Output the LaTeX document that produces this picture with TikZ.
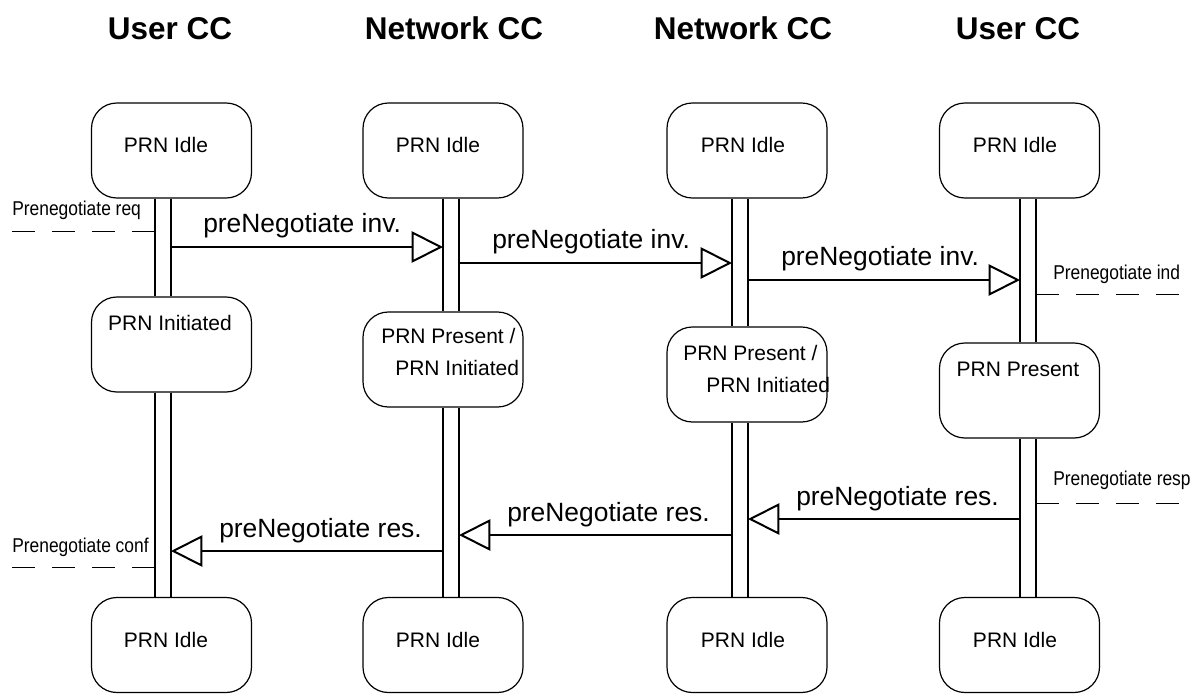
\documentclass[tikz,border=0pt]{standalone}
\usepackage{fontspec}
\setmainfont{Liberation Sans}
\newfontfamily\narrowfont[FakeStretch=0.87]{Liberation Sans}
\usetikzlibrary{arrows.meta}
\begin{document}
\begin{tikzpicture}[x=0.75pt,y=-0.75pt,
 box/.style={draw, line width=0.9pt, rounded corners=19pt, minimum width=120pt, minimum height=71.25pt, inner sep=0pt},
 boxtext/.style={font=\fontsize{15.75}{18}\selectfont, anchor=base, inner sep=0pt},
 boxtextl/.style={font=\fontsize{15.75}{18}\selectfont, anchor=base west, inner sep=0pt},
 head/.style={font=\bfseries\fontsize{23.6}{28}\selectfont, anchor=base, inner sep=0pt},
 msglabel/.style={font=\fontsize{19.8}{23}\selectfont, anchor=base west, inner sep=0pt},
 sidelabel/.style={font=\narrowfont\fontsize{15}{18}\selectfont, anchor=base west, inner sep=0pt},
 life/.style={line width=1.5pt},
 msg/.style={line width=1.5pt, -{Triangle[open,length=23.5pt,width=23.5pt,line width=1.5pt]}},
 dashline/.style={line width=0.75pt, dash pattern=on 17.25pt off 12.75pt}]
\useasboundingbox (0,0) rectangle (1200,693);

% headers
\node[head] (h1) at (170,39) {User CC};
\node[head] (h2) at (454,39) {Network CC};
\node[head] (h3) at (743,39) {Network CC};
\node[head] (h4) at (1018,39) {User CC};

% lifeline x positions
\coordinate (l1a) at (155,0); \coordinate (l1b) at (171,0);
\coordinate (l2a) at (443,0); \coordinate (l2b) at (459,0);
\coordinate (l3a) at (732,0); \coordinate (l3b) at (748,0);
\coordinate (l4a) at (1020,0); \coordinate (l4b) at (1036,0);

% top boxes
\node[box] (t1) at (171.5,150.5) {};
\node[box] (t2) at (443,150.5) {};
\node[box] (t3) at (747,150.5) {};
\node[box] (t4) at (1019.5,150.5) {};
\node[boxtext] (tt1) at (166,152) {PRN Idle};
\node[boxtext] (tt2) at (438,152) {PRN Idle};
\node[boxtext] (tt3) at (743,152) {PRN Idle};
\node[boxtext] (tt4) at (1015,152) {PRN Idle};

% middle boxes
\node[box] (m1) at (171.5,344.5) {};
\node[box] (m2) at (443,359.5) {};
\node[box] (m3) at (747,374.5) {};
\node[box] (m4) at (1019.5,390.5) {};
\node[boxtext] (mt1) at (170,330) {PRN Initiated};
\node[boxtextl] (mt2a) at (381,343) {PRN Present /};
\node[boxtextl] (mt2b) at (395,375) {PRN Initiated};
\node[boxtextl] (mt3a) at (683,360) {PRN Present /};
\node[boxtextl] (mt3b) at (706,392) {PRN Initiated};
\node[boxtext] (mt4) at (1018,376) {PRN Present};

% bottom boxes
\node[box] (b1) at (171.5,645) {};
\node[box] (b2) at (443,645) {};
\node[box] (b3) at (747,645) {};
\node[box] (b4) at (1019.5,645) {};
\node[boxtext] (bt1) at (166,647) {PRN Idle};
\node[boxtext] (bt2) at (438,647) {PRN Idle};
\node[boxtext] (bt3) at (743,647) {PRN Idle};
\node[boxtext] (bt4) at (1015,647) {PRN Idle};

% lifelines
\foreach \c/\u/\v in {1/t1/m1,1/m1/b1,2/t2/m2,2/m2/b2,3/t3/m3,3/m3/b3,4/t4/m4,4/m4/b4}{
  \draw[life] (\u.south -| l\c a) -- (\v.north -| l\c a);
  \draw[life] (\u.south -| l\c b) -- (\v.north -| l\c b);
}

% message end points
\coordinate (a1s) at (171,247);  \coordinate (a1e) at (443,247);
\coordinate (a2s) at (459,263);  \coordinate (a2e) at (732,263);
\coordinate (a3s) at (748,280);  \coordinate (a3e) at (1020,280);
\coordinate (a4s) at (1020,519); \coordinate (a4e) at (748,519);
\coordinate (a5s) at (732,535);  \coordinate (a5e) at (459,535);
\coordinate (a6s) at (443,551);  \coordinate (a6e) at (171,551);

\draw[msg] (a1s) -- (a1e);
\draw[msg] (a2s) -- (a2e);
\draw[msg] (a3s) -- (a3e);
\draw[msg] (a4s) -- (a4e);
\draw[msg] (a5s) -- (a5e);
\draw[msg] (a6s) -- (a6e);

\node[msglabel] (ml1) at (203,232) {preNegotiate inv.};
\node[msglabel] (ml2) at (492,248) {preNegotiate inv.};
\node[msglabel] (ml3) at (781,265) {preNegotiate inv.};
\node[msglabel] (ml4) at (796,505) {preNegotiate res.};
\node[msglabel] (ml5) at (507,521) {preNegotiate res.};
\node[msglabel] (ml6) at (219,537) {preNegotiate res.};

% primitive labels and dashed lines
\coordinate (d1s) at (12,231);   \coordinate (d1e) at (155,231);
\coordinate (d2s) at (1036,294); \coordinate (d2e) at (1180,294);
\coordinate (d3s) at (1036,503); \coordinate (d3e) at (1180,503);
\coordinate (d4s) at (12,567);   \coordinate (d4e) at (155,567);
\draw[dashline] (d1s) -- (d1e);
\draw[dashline] (d2s) -- (d2e);
\draw[dashline] (d3s) -- (d3e);
\draw[dashline] (d4s) -- (d4e);
\node[sidelabel] (s1) at (12,215) {Prenegotiate req};
\node[sidelabel] (s2) at (1053,279) {Prenegotiate ind};
\node[sidelabel] (s3) at (1053,485) {Prenegotiate resp};
\node[sidelabel] (s4) at (12,552) {Prenegotiate conf};
\end{tikzpicture}
\end{document}
